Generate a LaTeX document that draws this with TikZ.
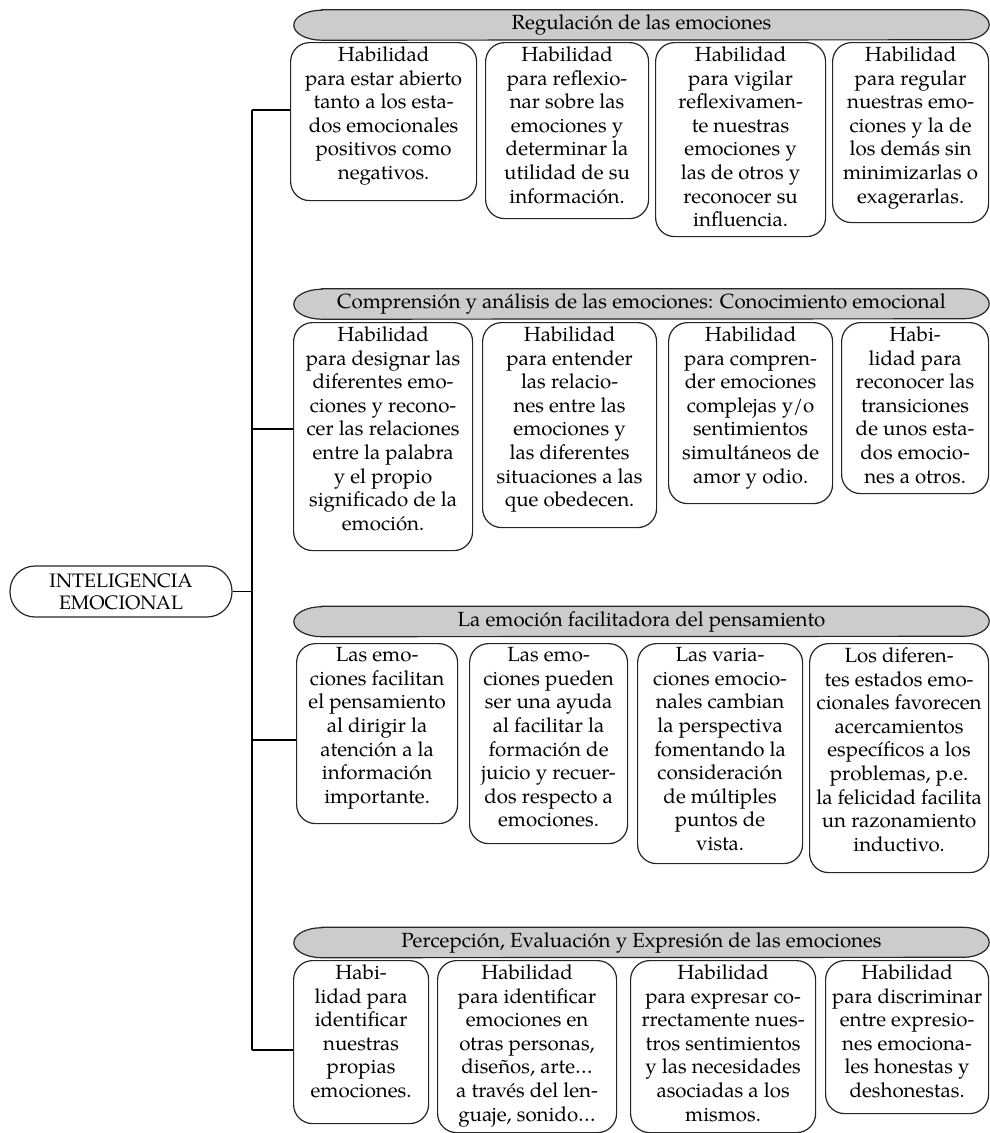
\documentclass[tikz,border=0pt]{standalone}
\usepackage{fontspec}
\setmainfont{TeX Gyre Pagella}
\usetikzlibrary{backgrounds}
\tikzset{
  card/.style={draw=black!85, line width=1.2pt, rounded corners=19pt, inner sep=0pt,
    font=\fontsize{20.5}{23.6}\selectfont},
  head/.style={inner sep=0pt, minimum height=30pt, minimum width=695pt,
    font=\fontsize{20.5}{24}\selectfont},
  headshape/.style={draw=black!85, fill=black!20, line width=1.2pt},
  rootbox/.style={draw=black!85, line width=1.2pt, rounded corners=25pt, inner sep=0pt,
    minimum width=222pt, minimum height=51pt, align=center,
    font=\fontsize{19.5}{22}\selectfont},
  conn/.style={line width=1.4pt, black},
}
\newcommand{\card}[6]{%
  \node[card, anchor=north west] (#1) at (#2,#3)
    {\parbox[c][#5pt][t]{#4pt}{\centering\vspace*{4pt}#6\par}};}
\newcommand{\headbg}[1]{%
  \path[headshape] ([xshift=28pt]#1.north west) -- ([xshift=-26pt]#1.north east)
    arc[start angle=90, end angle=-90, x radius=26pt, y radius=15pt]
    -- ([xshift=28pt]#1.south west)
    arc[start angle=270, end angle=90, x radius=28pt, y radius=15pt] -- cycle;}
\begin{document}
\begin{tikzpicture}[x=1pt,y=-1pt]
\useasboundingbox (0,0) rectangle (990,1133);

% root
\node[rootbox] (root) at (121,591.5) {INTELIGENCIA\\EMOCIONAL};

% headers
\node[head] (h1) at (641.5,25) {Regulación de las emociones};
\node[head] (h2) at (641.5,304) {Comprensión y análisis de las emociones: Conocimiento emocional};
\node[head] (h3) at (641.5,621.5) {La emoción facilitadora del pensamiento};
\node[head] (h4) at (641.5,942.5) {Percepción, Evaluación y Expresión de las emociones};
\begin{scope}[on background layer]
\headbg{h1}
\headbg{h2}
\headbg{h3}
\headbg{h4}
\end{scope}

% row 1
\card{b11}{290}{42}{186}{158}{Habilidad\\para estar abierto\\tanto a los esta-\\dos emocionales\\positivos como\\negativos.}
\card{b12}{485}{42}{163}{176}{Habilidad\\para reflexio-\\nar sobre las\\emociones y\\determinar la\\utilidad de su\\información.}
\card{b13}{655}{42}{170}{194}{Habilidad\\para vigilar\\reflexivamen-\\te nuestras\\emociones y\\las de otros y\\reconocer su\\influencia.}
\card{b14}{832}{42}{156}{180}{Habilidad\\para regular\\nuestras emo-\\ciones y la de\\los demás sin\\minimizarlas o\\exagerarlas.}

% row 2
\card{b21}{293}{322}{179}{228}{Habilidad\\para designar las\\diferentes emo-\\ciones y recono-\\cer las relaciones\\entre la palabra\\y el propio\\significado de la\\emoción.}
\card{b22}{482}{322}{174}{205}{Habilidad\\para entender\\las relacio-\\nes entre las\\emociones y\\las diferentes\\situaciones a las\\que obedecen.}
\card{b23}{668}{322}{164}{181}{Habilidad\\para compren-\\der emociones\\complejas y/o\\sentimientos\\simultáneos de\\amor y odio.}
\card{b24}{841}{322}{147}{171}{Habi-\\lidad para\\reconocer las\\transiciones\\de unos esta-\\dos emocio-\\nes a otros.}

% row 3
\card{b31}{296}{643}{161}{180}{Las emo-\\ciones facilitan\\el pensamiento\\al dirigir la\\atención a la\\información\\importante.}
\card{b32}{469}{643}{158}{200}{Las emo-\\ciones pueden\\ser una ayuda\\al facilitar la\\formación de\\juicio y recuer-\\dos respecto a\\emociones.}
\card{b33}{637}{643}{165}{220}{Las varia-\\ciones emocio-\\nales cambian\\la perspectiva\\fomentando la\\consideración\\de múltiples\\puntos de\\vista.}
\card{b34}{809}{643}{179}{229}{Los diferen-\\tes estados emo-\\cionales favorecen\\acercamientos\\específicos a los\\problemas, p.e.\\la felicidad facilita\\un razonamiento\\inductivo.}

% row 4
\card{b41}{293}{960}{135}{163}{Habi-\\lidad para\\identificar\\nuestras\\propias\\emociones.}
\card{b42}{437}{960}{179}{172}{Habilidad\\para identificar\\emociones en\\otras personas,\\diseños, arte…\\a través del len-\\guaje, sonido…}
\card{b43}{630}{960}{185}{172}{Habilidad\\para expresar co-\\rrectamente nues-\\tros sentimientos\\y las necesidades\\asociadas a los\\mismos.}
\card{b44}{825}{960}{163}{153}{Habilidad\\para discriminar\\entre expresio-\\nes emociona-\\les honestas y\\deshonestas.}

% connectors
\coordinate (j1) at (252,110);
\coordinate (j2) at (252,429);
\coordinate (j3) at (252,740);
\coordinate (j4) at (252,1050);
\draw[conn] (j1) -- (j4);
\draw[conn] (root.east) -- (root.east -| j1);
\draw[conn] (j1) -- (j1 -| b11.west);
\draw[conn] (j2) -- (j2 -| b21.west);
\draw[conn] (j3) -- (j3 -| b31.west);
\draw[conn] (j4) -- (j4 -| b41.west);
\end{tikzpicture}
\end{document}
